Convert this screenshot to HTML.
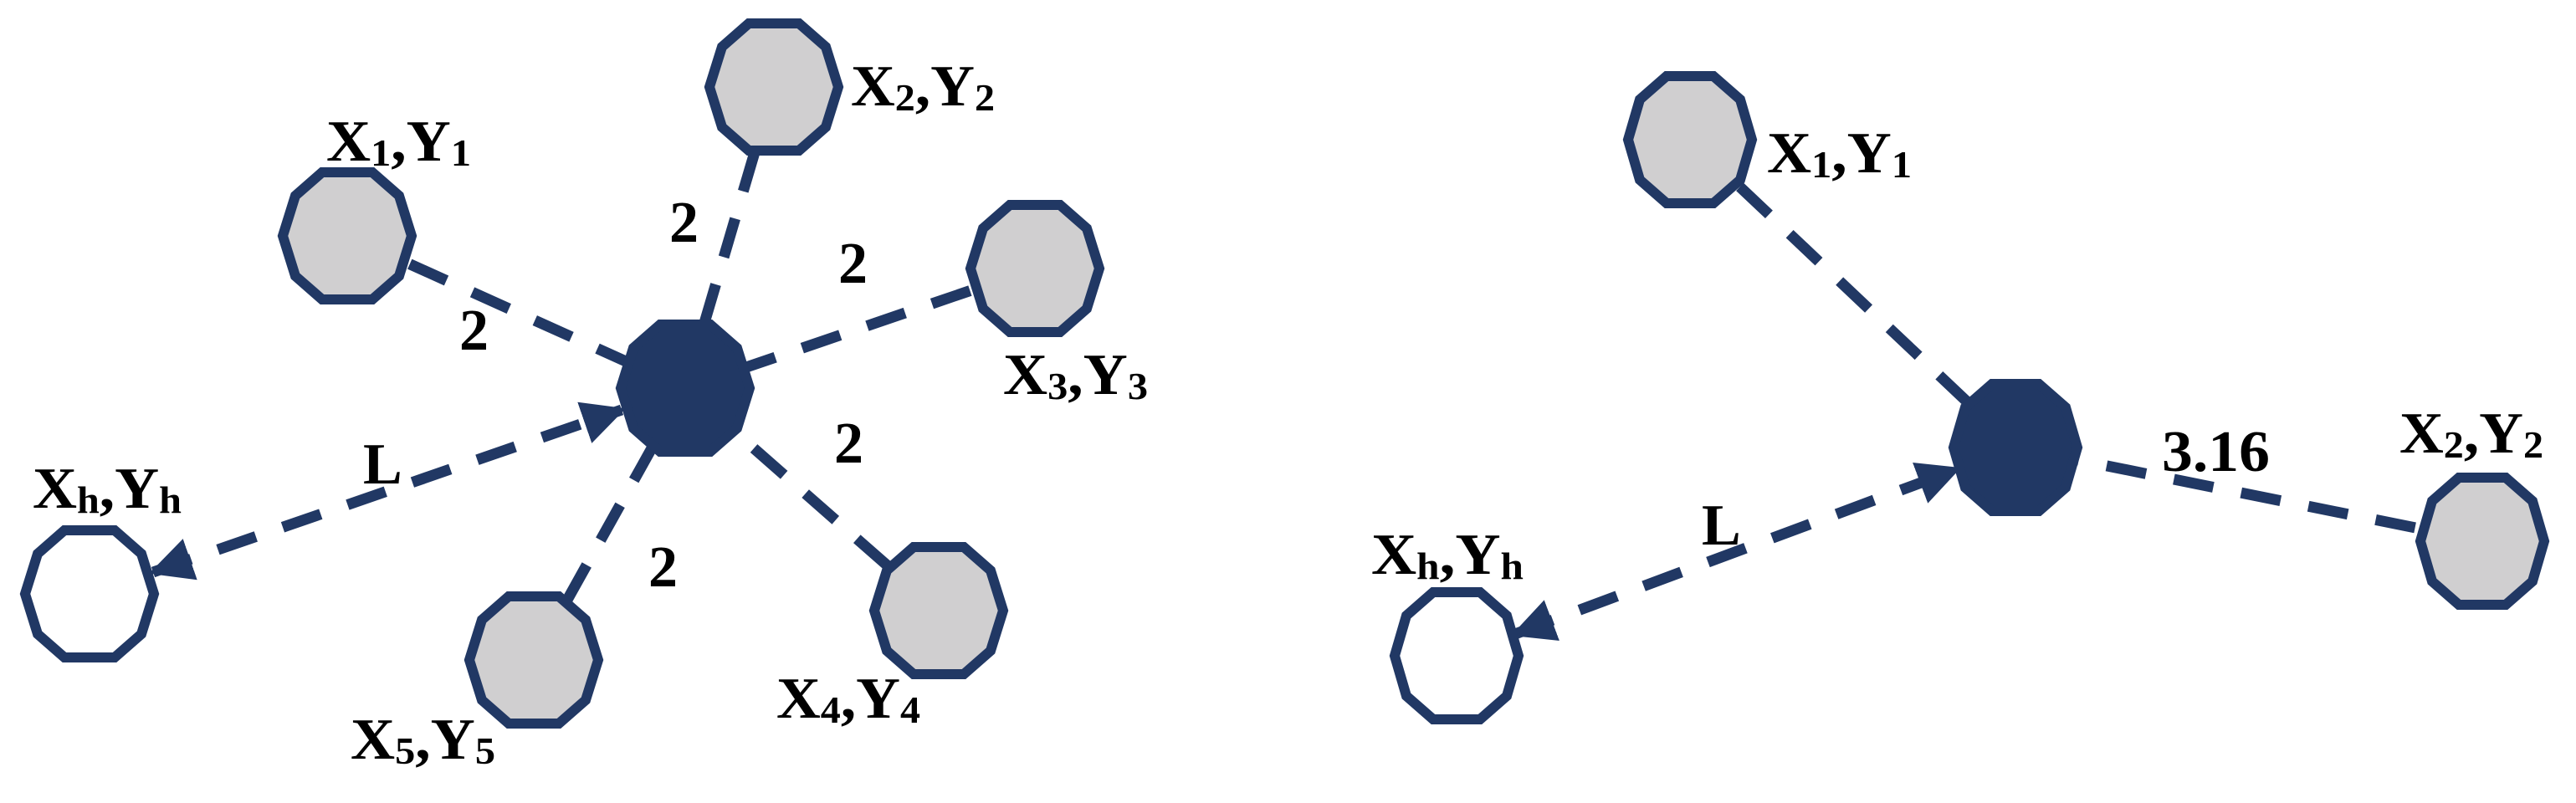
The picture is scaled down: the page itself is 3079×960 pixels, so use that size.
<!DOCTYPE html>
<html><head><meta charset="utf-8"><style>
html,body{margin:0;padding:0;background:#fff;}
svg{display:block}
text{font-family:"Liberation Serif","Times New Roman",serif;font-weight:bold;fill:#000;}
</style></head><body>
<svg width="3079" height="960" viewBox="0 0 3079 960" xmlns="http://www.w3.org/2000/svg">
<defs>
<marker id="ah" viewBox="0 0 10 10" refX="9" refY="5" markerWidth="4" markerHeight="4" orient="auto-start-reverse" markerUnits="strokeWidth">
<path d="M0,0 L10,5 L0,10 Z" fill="#213864"/>
</marker>
</defs>
<g stroke="#213864" stroke-width="13" stroke-dasharray="48 34" fill="none">
<line x1="415" y1="282" x2="819" y2="464"/>
<line x1="925" y1="104" x2="819" y2="464"/>
<line x1="1237" y1="321" x2="819" y2="464"/>
<line x1="1122" y1="730" x2="819" y2="464"/>
<line x1="638" y1="789" x2="819" y2="464"/>
<line x1="183" y1="684" x2="743" y2="490" marker-start="url(#ah)" marker-end="url(#ah)"/>
<line x1="2020" y1="167" x2="2409" y2="535"/>
<line x1="2967" y1="647" x2="2409" y2="535"/>
<line x1="1811" y1="758" x2="2339" y2="561" marker-start="url(#ah)" marker-end="url(#ah)"/>
</g>
<g stroke="#213864" stroke-width="12">
<polygon points="492,282 477,330 445,358 385,358 353,330 338,282 353,234 385,206 445,206 477,234" fill="#d0cfd0"/>
<polygon points="1002,104 987,152 955,180 895,180 863,152 848,104 863,56 895,28 955,28 987,56" fill="#d0cfd0"/>
<polygon points="1314,321 1299,369 1267,397 1207,397 1175,369 1160,321 1175,273 1207,245 1267,245 1299,273" fill="#d0cfd0"/>
<polygon points="1199,730 1184,778 1152,806 1092,806 1060,778 1045,730 1060,682 1092,654 1152,654 1184,682" fill="#d0cfd0"/>
<polygon points="715,789 700,837 668,865 608,865 576,837 561,789 576,741 608,713 668,713 700,741" fill="#d0cfd0"/>
<polygon points="184,710 169,758 137,786 77,786 45,758 30,710 45,662 77,634 137,634 169,662" fill="#fff"/>
<polygon points="896,464 881,512 849,540 789,540 757,512 742,464 757,416 789,388 849,388 881,416" fill="#213864"/>
<polygon points="2094,167 2080,215 2048,243 1992,243 1960,215 1946,167 1960,119 1992,91 2048,91 2080,119" fill="#d0cfd0"/>
<polygon points="3041,647 3027,695 2995,723 2939,723 2907,695 2893,647 2907,599 2939,571 2995,571 3027,599" fill="#d0cfd0"/>
<polygon points="1815,784 1801,832 1769,860 1713,860 1681,832 1667,784 1681,736 1713,708 1769,708 1801,736" fill="#fff"/>
<polygon points="2483,535 2469,583 2437,611 2381,611 2349,583 2335,535 2349,487 2381,459 2437,459 2469,487" fill="#213864"/>
</g>
<g font-size="70">
<text x="390" y="192" textLength="173" lengthAdjust="spacingAndGlyphs">X<tspan font-size="46" dy="6">1</tspan><tspan dy="-6">,Y</tspan><tspan font-size="46" dy="6">1</tspan></text>
<text x="1017" y="126" textLength="172" lengthAdjust="spacingAndGlyphs">X<tspan font-size="46" dy="6">2</tspan><tspan dy="-6">,Y</tspan><tspan font-size="46" dy="6">2</tspan></text>
<text x="1199" y="471" textLength="173" lengthAdjust="spacingAndGlyphs">X<tspan font-size="46" dy="6">3</tspan><tspan dy="-6">,Y</tspan><tspan font-size="46" dy="6">3</tspan></text>
<text x="928" y="858" textLength="172" lengthAdjust="spacingAndGlyphs">X<tspan font-size="46" dy="6">4</tspan><tspan dy="-6">,Y</tspan><tspan font-size="46" dy="6">4</tspan></text>
<text x="419" y="907" textLength="173" lengthAdjust="spacingAndGlyphs">X<tspan font-size="46" dy="6">5</tspan><tspan dy="-6">,Y</tspan><tspan font-size="46" dy="6">5</tspan></text>
<text x="39" y="607" textLength="178" lengthAdjust="spacingAndGlyphs">X<tspan font-size="46" dy="6">h</tspan><tspan dy="-6">,Y</tspan><tspan font-size="46" dy="6">h</tspan></text>
<text x="434" y="578">L</text>
<text x="800" y="289">2</text>
<text x="1002" y="338">2</text>
<text x="549" y="418">2</text>
<text x="997" y="553">2</text>
<text x="775" y="701">2</text>
<text x="2112" y="206" textLength="173" lengthAdjust="spacingAndGlyphs">X<tspan font-size="46" dy="6">1</tspan><tspan dy="-6">,Y</tspan><tspan font-size="46" dy="6">1</tspan></text>
<text x="2868" y="541" textLength="172" lengthAdjust="spacingAndGlyphs">X<tspan font-size="46" dy="6">2</tspan><tspan dy="-6">,Y</tspan><tspan font-size="46" dy="6">2</tspan></text>
<text x="1639" y="686" textLength="182" lengthAdjust="spacingAndGlyphs">X<tspan font-size="46" dy="6">h</tspan><tspan dy="-6">,Y</tspan><tspan font-size="46" dy="6">h</tspan></text>
<text x="2034" y="651">L</text>
<text x="2584" y="563" textLength="129" lengthAdjust="spacingAndGlyphs">3.16</text>
</g>
</svg>
</body></html>
